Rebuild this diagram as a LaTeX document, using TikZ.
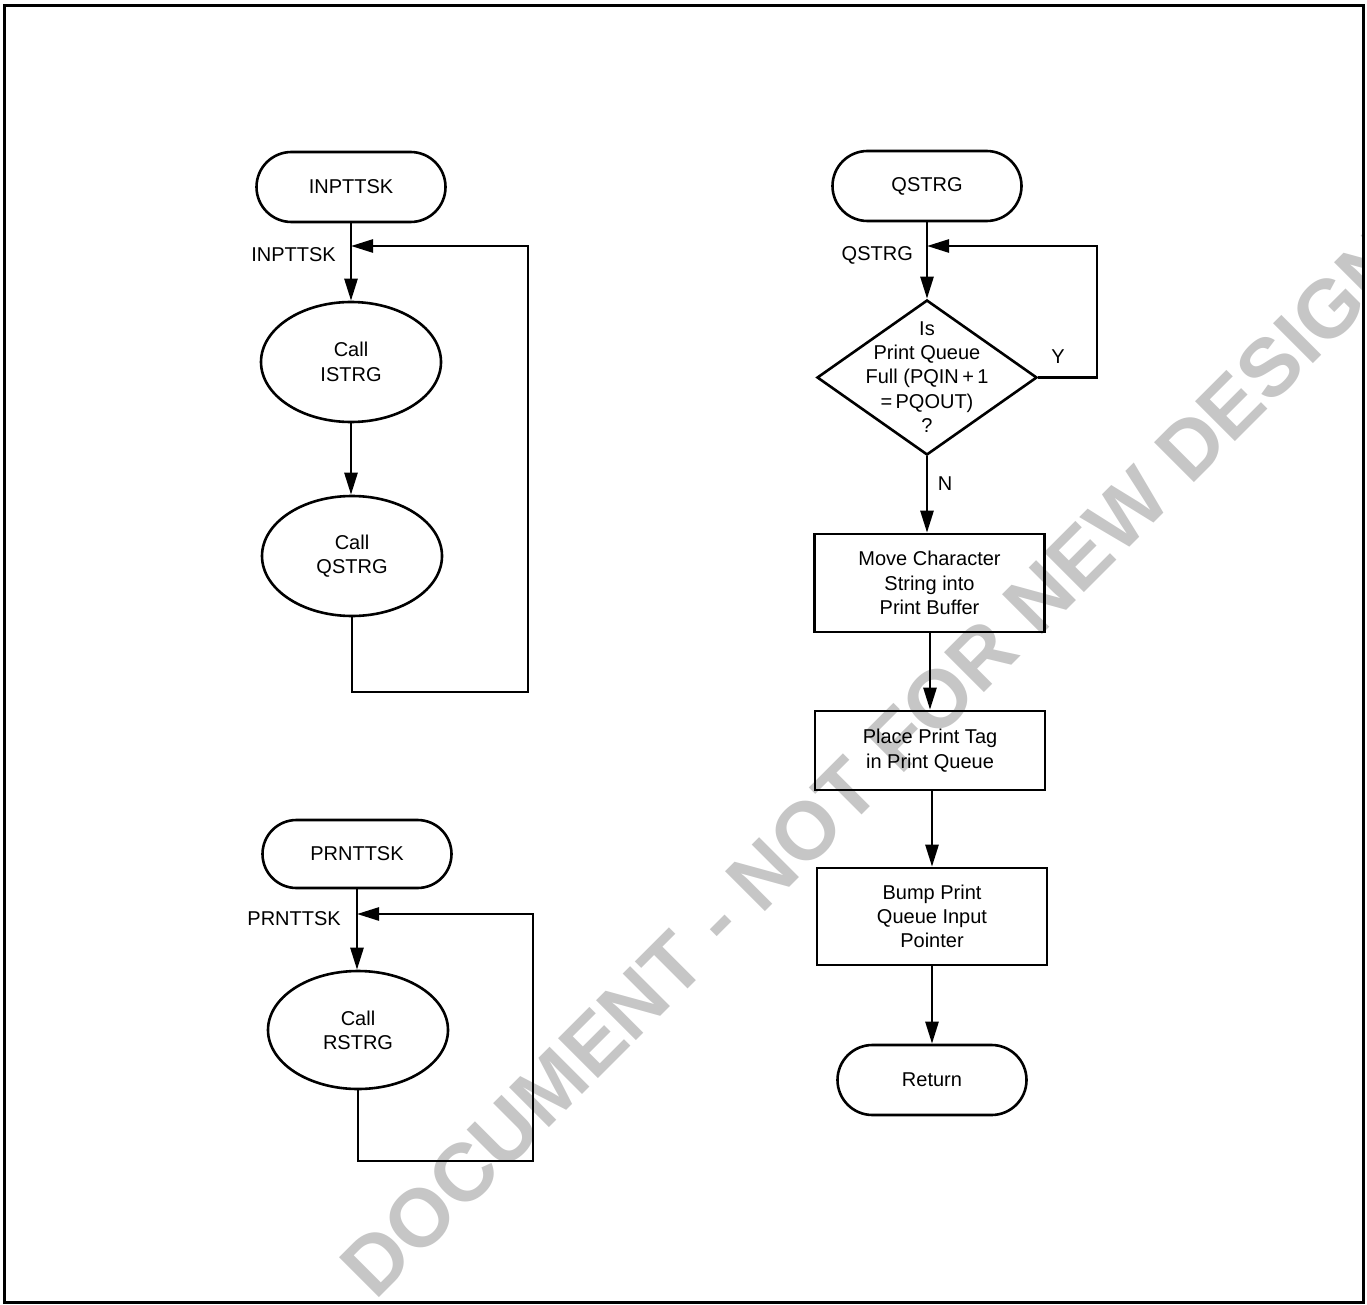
\documentclass[tikz,border=0pt]{standalone}
\usepackage{fontspec}
\setmainfont{Liberation Sans}
\usetikzlibrary{shapes.geometric,shapes.misc,arrows.meta}
\begin{document}
\begin{tikzpicture}[x=1pt,y=-1pt,
  txt/.style={font=\fontsize{20}{24.3}\selectfont, align=center, inner sep=0pt},
  term/.style={txt, draw, line width=2.6pt, rounded rectangle, minimum width=189pt, minimum height=70pt},
  oval/.style={txt, draw, line width=2.6pt, ellipse, minimum width=180pt, minimum height=120pt},
  box/.style={txt, draw, line width=2.6pt, rectangle, minimum width=230pt},
  dia/.style={draw, line width=2.6pt, diamond, minimum width=220pt, minimum height=155pt, inner sep=0pt},
  lbl/.style={font=\fontsize{20}{24}\selectfont, inner sep=0pt},
  ln/.style={line width=2.6pt},
  arr/.style={line width=2.6pt, -{Triangle[length=22pt,width=13pt]}},
  wm/.style={font=\fontsize{82}{90}\selectfont\bfseries, text=gray!45, inner sep=0pt}
]
\useasboundingbox (0,0) rectangle (1367,1305);

% watermark
\begin{scope}
  \clip (5,8) rectangle (1362,1300);
  \node[wm, rotate=45, anchor=base west] (wmark) at (375,1302) {DOCUMENT - NOT FOR NEW DESIGN};
\end{scope}

% frame
\draw[line width=3pt] (4,6) rectangle (1363,1302);

% ---------- INPTTSK ----------
\node[term] (t1) at (351,187) {INPTTSK};
\node[lbl, anchor=east] (l1) at (336,255) {INPTTSK};
\coordinate (j1) at (351,246);
\node[oval] (e1) at (351,362) {Call\\ISTRG};
\node[oval] (e2) at (352,556) {Call\\QSTRG};
\coordinate (c1) at (528,692);
\draw[arr] (t1.south) -- (e1.north);
\draw[arr] (e1.south) -- (e1.south |- e2.north);
\draw[arr] (e2.south) |- (c1) |- (j1);

% ---------- PRNTTSK ----------
\node[term, minimum height=68pt] (t2) at (357,854) {PRNTTSK};
\node[lbl, anchor=east] (l2) at (341,919) {PRNTTSK};
\coordinate (j3) at (357,914);
\node[oval, minimum height=118pt] (e3) at (358,1030) {Call\\RSTRG};
\coordinate (c3) at (533,1161);
\draw[arr] (t2.south) -- (t2.south |- e3.north);
\draw[arr] (e3.south) |- (c3) |- (j3);

% ---------- QSTRG ----------
\node[term] (t3) at (927,186) {QSTRG};
\node[lbl, anchor=east] (l3) at (913,255) {QSTRG};
\coordinate (j2) at (927,246);
\node[dia] (d) at (927,377.5) {};
\node[txt] (dtxt) at (927,377) {Is\\Print Queue\\Full (PQIN\,+\,1\\=\,PQOUT)\\?};
\coordinate (r1) at (1097,377.5);
\node[lbl] (ylab) at (1058,357) {Y};
\node[lbl] (nlab) at (945,484) {N};
\draw[arr] (t3.south) -- (d.north);
\draw[arr] (d.east) -- (r1) |- (j2);

\node[box, minimum height=98pt] (b1) at (929.5,583) {Move Character\\String into\\Print Buffer};
\node[box, minimum height=79pt] (b2) at (930,750.5) {Place Print Tag\\in Print Queue};
\node[box, minimum height=97pt] (b3) at (932,916.5) {Bump Print\\Queue Input\\Pointer};
\node[term] (t4) at (932,1080) {Return};

\draw[arr] (d.south) -- (d.south |- b1.north);
\draw[arr] (b2.north |- b1.south) -- (b2.north);
\draw[arr] (b3.north |- b2.south) -- (b3.north);
\draw[arr] (b3.south) -- (t4.north);
\end{tikzpicture}
\end{document}
